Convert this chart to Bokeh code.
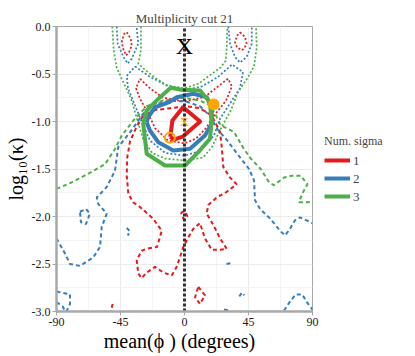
from bokeh.plotting import figure
from bokeh.models import Range1d, FixedTicker, Legend, LegendItem
from bokeh.core.properties import value
from bokeh.embed import file_html
from bokeh.resources import INLINE

# ---------------- data (phi in degrees, log10 kappa) ----------------
RED_SOLID_PHI = [-10, -8.5, -1, 11, 2.5, -1.3, -7.5, -10]
RED_SOLID_LK = [-1.16, -0.99, -0.85, -1.0, -1.11, -1.16, -1.19, -1.16]

BLUE_SOLID_PHI = [-26.6, -25.5, -20.7, -10.7, -5.5, 6.2, 15.6, 19.1, 19.1, 14.4, 3.9, -7.9, -18.4, -24.3, -26.6]
BLUE_SOLID_LK = [-1.007, -0.955, -0.85, -0.797, -0.744, -0.708, -0.744, -0.85, -1.024, -1.147, -1.287, -1.305, -1.218, -1.095, -1.007]

GREEN_SOLID_PHI = [-9.7, -2.0, 10.9, 17.9, 19.1, 17.9, 9.7, 0.4, -13.7, -26.6, -29.0, -26.6, -17.2, -9.7]
GREEN_SOLID_LK = [-0.645, -0.666, -0.674, -0.797, -1.007, -1.182, -1.323, -1.463, -1.463, -1.34, -1.024, -0.884, -0.744, -0.645]

# dotted contours
RED_DOT_TL_PHI = [-40.6, -37.8, -37.1, -39.0, -41.1, -43.5, -44.0, -42.5, -40.6]
RED_DOT_TL_LK = [-0.06, -0.13, -0.2, -0.27, -0.305, -0.22, -0.15, -0.08, -0.06]
RED_DOT_TR_PHI = [39.0, 42.5, 43.7, 42.0, 40.2, 37.0, 35.5, 36.8, 39.0]
RED_DOT_TR_LK = [-0.06, -0.11, -0.18, -0.23, -0.25, -0.22, -0.165, -0.1, -0.06]
RED_DOT_MID_PHI = [-31.3, -24.3, -15.1, 0, 14.4, 23.6, 30.6, 33.4, 29.2, 20.7, 15.1, 8.1, 0, -11.6, -20.7, -25.7, -31.3, -34.1, -31.3]
RED_DOT_MID_LK = [-0.55, -0.65, -0.75, -0.79, -0.74, -0.63, -0.55, -0.63, -0.78, -0.94, -1.07, -1.18, -1.23, -1.2, -1.07, -0.91, -0.76, -0.65, -0.55]

BLUE_DOT_TL_PHI = [-47.7, -47.0, -43.0, -39.9, -37.1, -32.5, -33.7]
BLUE_DOT_TL_LK = [0.0, -0.18, -0.32, -0.39, -0.34, -0.18, 0.0]
BLUE_DOT_TR_PHI = [30.8, 32.0, 35.5, 39.0, 43.7, 47.3, 47.3]
BLUE_DOT_TR_LK = [0.0, -0.18, -0.32, -0.38, -0.32, -0.18, 0.0]
BLUE_DOT_MID_PHI = [-34.8, -24.3, -12.3, 0, 12.3, 23.6, 33.4, 41.1, 39.0, 32.0, 25.0, 20.7, 10.9, 0, -13.7, -24.3, -29.9, -34.8, -39.7, -40.6, -34.8]
BLUE_DOT_MID_LK = [-0.42, -0.53, -0.62, -0.67, -0.63, -0.53, -0.4, -0.48, -0.65, -0.81, -0.97, -1.15, -1.31, -1.36, -1.33, -1.2, -1.01, -0.83, -0.65, -0.52, -0.42]

GREEN_DOT_OUT_PHI = [-50.8, -49.8, -47.7, -44.2, -40.6, -37.1, -34.1, -29.2, -22.9, -13.7, 0, 13.0, 19.3, 25.0, 32.7, 37.6, 44.0, 48.9, 50.8, 50.3]
GREEN_DOT_OUT_LK = [0.0, -0.25, -0.43, -0.55, -0.66, -0.78, -0.94, -1.18, -1.33, -1.39, -1.41, -1.38, -1.27, -1.09, -0.88, -0.69, -0.55, -0.42, -0.22, 0.0]
GREEN_DOT_IN_PHI = [-30.6, -30.6, -32.5, -29.0, -20.7, -12.5, 0, 10.2, 17.2, 25.5, 29.0, 29.7, 30.1]
GREEN_DOT_IN_LK = [0.0, -0.25, -0.39, -0.44, -0.54, -0.62, -0.65, -0.6, -0.52, -0.43, -0.36, -0.22, 0.0]

# dashed contours
RED_DASH_PHI = [-29.2, -34.1, -38.3, -40.4, -40.6, -39.5, -36.2, -31.3, -22.2, -16.0, -19.3, -26.6, -30.1, -33.6, -32.5, -30.1,
                -26.6, -20.7, -14.9, -9.0, -5.5, -3.2, -0.8, 2.7, 6.2, 10.9, 14.4, 19.1, 25.0, 29.7, 25.0, 20.3, 15.6, 16.7,
                22.6, 29.7, 36.7, 32.0, 27.3, 26.2, 25.0, 19.3, 10.9, 1.1, -10.2, -20.7, -29.2]
RED_DASH_LK = [-0.94, -1.07, -1.21, -1.39, -1.57, -1.76, -1.85, -1.9, -2.02, -2.15, -2.32, -2.34, -2.36, -2.46, -2.6, -2.65,
               -2.59, -2.53, -2.59, -2.62, -2.53, -2.43, -2.32, -2.22, -2.13, -2.07, -2.23, -2.35, -2.35, -2.34, -2.23, -2.09, -1.97, -1.88,
               -1.8, -1.74, -1.66, -1.59, -1.48, -1.27, -1.11, -0.94, -0.86, -0.84, -0.86, -0.88, -0.94]
RED_DASH_S1_PHI = [-2.5, 0.5, 2.0, -0.5, -2.5]
RED_DASH_S1_LK = [-1.96, -1.94, -2.0, -2.03, -1.96]
RED_DASH_S2_PHI = [9.7, 14.4, 10.9, 7.4, 9.7]
RED_DASH_S2_LK = [-2.74, -2.83, -2.92, -2.85, -2.74]
RED_DASH_S3_PHI = [-50.5, -51.8]
RED_DASH_S3_LK = [-2.92, -3.0]

BLUE_DASH_PHI = [-90, -84.0, -80.5, -73.5, -64.1, -59.4, -58.2, -54.7, -60.6, -61.7, -54.7, -48.9, -46.6, -37.1, -29.2,
                 -20.7, -10.2, 1.1, 10.9, 17.9, 23.1, 30.1, 37.1, 45.4, 48.9, 49.6, 53.1, 60.1, 67.2, 70.7, 74.2, 77.7,
                 81.2, 85.9, 90]
BLUE_DASH_LK = [-2.23, -2.39, -2.5, -2.52, -2.43, -2.32, -2.11, -1.97, -1.87, -1.8, -1.69, -1.52, -1.27, -1.09, -0.92,
                -0.82, -0.78, -0.79, -0.84, -0.94, -1.08, -1.2, -1.34, -1.5, -1.62, -1.83, -1.92, -2.02, -2.15, -2.2, -2.13, -2.04,
                -2.01, -2.04, -2.07]
BLUE_DASH_S1_PHI = [-73.5, -69.3, -66.5, -69.3, -72.8, -73.5]
BLUE_DASH_S1_LK = [-1.95, -1.92, -1.97, -2.08, -2.06, -1.95]
BLUE_DASH_S2_PHI = [-90, -80.5, -80.5, -83.0]
BLUE_DASH_S2_LK = [-2.79, -2.82, -2.92, -3.0]
BLUE_DASH_S3_PHI = [-90, -85.5, -84.0]
BLUE_DASH_S3_LK = [-2.9, -2.95, -3.0]
BLUE_DASH_S4_PHI = [-40.6, -38.3, -40.0]
BLUE_DASH_S4_LK = [-2.12, -2.16, -2.2]
BLUE_DASH_S5_PHI = [29.5, 33.5]
BLUE_DASH_S5_LK = [-2.5, -2.49]
BLUE_DASH_S6_PHI = [38.5, 40.5, 42.0]
BLUE_DASH_S6_LK = [-2.84, -2.8, -2.83]
BLUE_DASH_S7_PHI = [27.8, 32.5]
BLUE_DASH_S7_LK = [-2.98, -2.99]
BLUE_DASH_S8_PHI = [70.0, 73.5, 78.2, 82.8, 86.4, 90]
BLUE_DASH_S8_LK = [-2.99, -2.91, -2.82, -2.82, -2.91, -2.98]

GREEN_DASH_PHI = [-90, -79.3, -67.7, -55.9, -48.9, -44.2, -36.0, -26.6, -15.1, -0.4, 10.9, 17.9, 22.2, 25.5, 34.8, 41.8,
                  46.6, 53.6, 59.4, 62.9, 70.0, 75.8, 81.7, 86.4, 82.8, 80.5, 87.1, 90]
GREEN_DASH_LK = [-1.71, -1.64, -1.55, -1.45, -1.29, -1.15, -0.99, -0.84, -0.78, -0.75, -0.78, -0.83, -0.94, -1.04, -1.11, -1.29,
                 -1.39, -1.5, -1.64, -1.67, -1.59, -1.57, -1.57, -1.66, -1.76, -1.85, -1.85, -1.83]

# markers
TRUE_PHI = [0.0]
TRUE_LK = [-0.2]
FIT_PHI = [0.0]
FIT_LK = [-1.0]
FILLED_PT_PHI = [20.5]
FILLED_PT_LK = [-0.82]
OPEN_PT_PHI = [-10.3]
OPEN_PT_LK = [-1.17]

X_TICKS = [-90, -45, 0, 45, 90]
Y_TICKS = [-3.0, -2.5, -2.0, -1.5, -1.0, -0.5, 0.0]
SIGMA_LABELS = ["1", "2", "3"]

RED = "#E41A1C"
BLUE = "#377EB8"
GREEN = "#4DAF4A"
ORANGE = "#FFA500"
FONT = "Liberation Serif"

p = figure(output_backend="svg", toolbar_location=None,
           frame_width=256, frame_height=285,
           x_range=Range1d(-90, 90), y_range=Range1d(-3, 0),
           min_border_left=56, min_border_top=26, min_border_bottom=30, min_border_right=0)
p.background_fill_color = "white"
p.border_fill_color = "white"
p.outline_line_color = "#A8A8A8"
p.outline_line_width = 1

p.xaxis.ticker = FixedTicker(ticks=X_TICKS, minor_ticks=[-67.5, -22.5, 22.5, 67.5])
p.yaxis.ticker = FixedTicker(ticks=Y_TICKS, minor_ticks=[-2.75, -2.25, -1.75, -1.25, -0.75, -0.25])
p.yaxis.major_label_overrides = {t: "%.1f" % t for t in Y_TICKS}
p.xaxis.major_label_overrides = {t: "%d" % t for t in X_TICKS}
for ax in (p.xaxis, p.yaxis):
    ax.axis_line_color = "#A8A8A8"
    ax.axis_line_width = 2.5
    ax.major_tick_line_color = "#A8A8A8"
    ax.major_tick_in = 0
    ax.major_tick_out = 4
    ax.minor_tick_line_color = None
    ax.major_label_text_font = FONT
    ax.major_label_text_font_size = "12px"
    ax.major_label_text_color = "#1a1a1a"
    ax.axis_label_text_font = FONT
    ax.axis_label_text_font_style = "normal"
    ax.axis_label_text_color = "black"
p.xaxis.axis_label = "mean(ϕ )   (degrees)"
p.yaxis.axis_label = "log₁₀(κ)"
p.xaxis.axis_label_text_font_size = "20px"
p.yaxis.axis_label_text_font_size = "20px"
p.xaxis.axis_label_standoff = 1
p.yaxis.axis_label_standoff = 2
p.xaxis.major_label_standoff = 2
p.yaxis.major_label_standoff = 2

p.grid.grid_line_color = "#EBEBEB"
p.grid.minor_grid_line_color = "#F3F3F3"
p.grid.grid_line_width = 1

p.title.text = "Multiplicity cut 21"
p.title.align = "center"
p.title.text_font = FONT
p.title.text_font_size = "13px"
p.title.text_font_style = "normal"
p.title.offset = 0
p.title.standoff = 2

dot = dict(line_width=1.7, line_dash="2 2")
dash = dict(line_width=2, line_dash="4 3")

# dotted
for xs, ys, c in [(RED_DOT_TL_PHI, RED_DOT_TL_LK, RED), (RED_DOT_TR_PHI, RED_DOT_TR_LK, RED), (RED_DOT_MID_PHI, RED_DOT_MID_LK, RED),
                  (BLUE_DOT_TL_PHI, BLUE_DOT_TL_LK, BLUE), (BLUE_DOT_TR_PHI, BLUE_DOT_TR_LK, BLUE), (BLUE_DOT_MID_PHI, BLUE_DOT_MID_LK, BLUE),
                  (GREEN_DOT_OUT_PHI, GREEN_DOT_OUT_LK, GREEN), (GREEN_DOT_IN_PHI, GREEN_DOT_IN_LK, GREEN)]:
    p.line(xs, ys, line_color=c, **dot)

# dashed
for xs, ys, c in [(RED_DASH_PHI, RED_DASH_LK, RED), (RED_DASH_S1_PHI, RED_DASH_S1_LK, RED), (RED_DASH_S2_PHI, RED_DASH_S2_LK, RED),
                  (RED_DASH_S3_PHI, RED_DASH_S3_LK, RED),
                  (BLUE_DASH_PHI, BLUE_DASH_LK, BLUE), (BLUE_DASH_S1_PHI, BLUE_DASH_S1_LK, BLUE), (BLUE_DASH_S2_PHI, BLUE_DASH_S2_LK, BLUE),
                  (BLUE_DASH_S3_PHI, BLUE_DASH_S3_LK, BLUE), (BLUE_DASH_S4_PHI, BLUE_DASH_S4_LK, BLUE), (BLUE_DASH_S5_PHI, BLUE_DASH_S5_LK, BLUE),
                  (BLUE_DASH_S6_PHI, BLUE_DASH_S6_LK, BLUE), (BLUE_DASH_S7_PHI, BLUE_DASH_S7_LK, BLUE), (BLUE_DASH_S8_PHI, BLUE_DASH_S8_LK, BLUE),
                  (GREEN_DASH_PHI, GREEN_DASH_LK, GREEN)]:
    p.line(xs, ys, line_color=c, **dash)

# solid
r1 = p.line(RED_SOLID_PHI, RED_SOLID_LK, line_color=RED, line_width=4, line_join="round")
r2 = p.line(BLUE_SOLID_PHI, BLUE_SOLID_LK, line_color=BLUE, line_width=4, line_join="round")
r3 = p.line(GREEN_SOLID_PHI, GREEN_SOLID_LK, line_color=GREEN, line_width=4, line_join="round")

# vertical reference line at phi=0
p.line([0, 0], [-3, 0], line_color="#333333", line_width=3, line_dash="3 2")

# markers
p.scatter(FILLED_PT_PHI, FILLED_PT_LK, size=11, fill_color=ORANGE, line_color=ORANGE)
p.scatter(OPEN_PT_PHI, OPEN_PT_LK, size=10, fill_color=None, line_color=ORANGE, line_width=2)
p.text(FIT_PHI, FIT_LK, text=["X"], text_color=ORANGE, text_font=value(FONT), text_font_size="13px",
       text_align="center", text_baseline="middle")
p.text(TRUE_PHI, TRUE_LK, text=["X"], text_color="black", text_font=value(FONT), text_font_size="24px",
       text_align="center", text_baseline="middle")

legend = Legend(items=[LegendItem(label=SIGMA_LABELS[i], renderers=[r]) for i, r in enumerate([r1, r2, r3])],
                title="Num. sigma", location="center_left")
legend.title_text_font = FONT
legend.title_text_font_size = "12px"
legend.title_text_font_style = "normal"
legend.label_text_font = FONT
legend.label_text_font_size = "13px"
legend.glyph_width = 26
legend.glyph_height = 13
legend.spacing = 2
legend.padding = 2
legend.margin = 12
legend.border_line_color = None
legend.background_fill_color = None
legend.label_standoff = 3
legend.title_standoff = 4
p.add_layout(legend, "right")

open("out.html", "w").write(file_html(p, INLINE))
